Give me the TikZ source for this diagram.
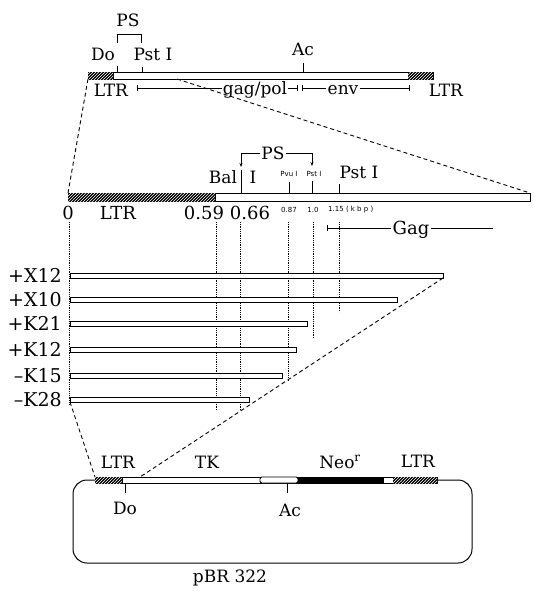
\documentclass[tikz,border=0pt]{standalone}
\usepackage{fontspec}
\setmainfont{DejaVu Serif}
\setsansfont{DejaVu Sans}
\usetikzlibrary{arrows.meta,positioning,calc,patterns}

\begin{document}
\begin{tikzpicture}[x=1pt, y=-1pt,
  lab/.style={font=\fontsize{17}{17}\selectfont, inner sep=1pt},
  num/.style={font=\fontsize{18}{18}\selectfont, inner sep=1pt},
  clab/.style={font=\fontsize{19}{19}\selectfont, inner sep=1pt},
  sml/.style={font=\sffamily\fontsize{7}{7}\selectfont, inner sep=1pt},
  bar/.style={draw, fill=white, line width=0.9pt, inner sep=0pt, outer sep=0pt, anchor=north west},
  hat/.style={bar, fill=black, postaction={pattern=north east lines, pattern color=white}},
  tk/.style={line width=0.8pt},
  zm/.style={line width=0.9pt, dash pattern=on 4pt off 3pt},
  dt/.style={line width=0.8pt, densely dotted},
  sp/.style={line width=0.7pt},
  dn/.style={-{Stealth[length=4pt,width=3pt]}, line width=0.7pt}
]
\useasboundingbox (0,0) rectangle (533,597);

% provirus
\node[bar, minimum width=345pt, minimum height=7pt] (gen) at (88,72) {};
\node[hat, minimum width=25pt, minimum height=7pt] (ltrA) at (88,72) {};
\node[hat, minimum width=25pt, minimum height=7pt] (ltrB) at (408,72) {};
\node[lab] (ps1) at (128,20) {PS};
\node[lab] (doA) at (103,54) {Do};
\node[lab] (pstA) at (153,54) {Pst I};
\node[lab] (acA) at (303,49) {Ac};
\draw[tk] (117,43) |- (141,34) -- (141,43);
\draw[tk] (117,72) -- ++(0,-6);
\draw[tk] (142,72) -- ++(0,-5);
\draw[tk] (303,72) -- ++(0,-9);
\node[lab] (ltr1) at (111,90) {LTR};
\node[lab] (gp) at (255,90) {gag/pol};
\node[lab] (env) at (343,90) {env};
\node[lab] (ltr2) at (446,90) {LTR};
\coordinate (gs) at (137,88);
\coordinate (ge) at (298,88);
\coordinate (es) at (302,88);
\coordinate (ee) at (410,88);
\draw[sp, {Bar[width=6pt]}-] (gs) -- (gs -| gp.west);
\draw[sp, -{Bar[width=6pt]}] (gp.east |- ge) -- (ge);
\draw[sp, {Bar[width=6pt]}-] (es) -- (es -| env.west);
\draw[sp, -{Bar[width=6pt]}] (env.east |- ee) -- (ee);

% enlarged 5' region
\node[bar, minimum width=462pt, minimum height=8pt] (mid) at (68,193) {};
\node[hat, minimum width=147pt, minimum height=8pt] (midltr) at (68,193) {};
\draw[zm] (gen.south west) -- (mid.north west);
\draw[zm] ($(gen.south west)+(89,0)$) -- (mid.north east);
\node[lab, fill=white] (ps2) at (273,153) {PS};
\draw[dn] (ps2.west) -| (241,167);
\draw[dn] (ps2.east) -| (312,166);
\node[lab] (bal) at (223,177) {Bal};
\node[lab] (balI) at (253,177) {I};
\node[sml] (pvu) at (289,174) {Pvu I};
\node[sml] (pst2) at (314,174) {Pst I};
\node[lab] (pst3) at (359,172) {Pst I};
\draw[tk] (241,170) -- (241,193);
\draw[tk] (289,182) -- (289,193);
\draw[tk] (312,181) -- (312,193);
\draw[tk] (339,184) -- (339,193);
\node[num] (s0) at (68,213) {0};
\node[num] (sltr) at (118,213) {LTR};
\node[num] (s59) at (204,213) {0.59};
\node[num] (s66) at (250,213) {0.66};
\node[sml] (s87) at (289,210) {0.87};
\node[sml] (s10) at (313,210) {1.0};
\node[sml, anchor=west] (s115) at (327,210) {1.15 ( k b p )};
\node[num] (gag) at (411,230) {Gag};
\coordinate (gg) at (327,228);
\coordinate (gz) at (493,228);
\draw[sp, {Bar[width=6pt]}-] (gg) -- (gg -| gag.west);
\draw[sp] (gag.east |- gz) -- (gz);
\foreach \x/\e in {216/410, 240/410, 288/381, 313/338, 339/312}
  \draw[dt] (\x,222) -- (\x,\e);
\draw[dt] (69,222) -- (69,404);

% deletion clones
\foreach \n/\y/\w/\t in {x12/273/373/{+X12}, x10/297/327/{+X10}, k21/321/237/{+K21},
    k12/347/226/{+K12}, k15/373/212/{\textendash K15}, k28/397/179/{\textendash K28}} {
  \node[bar, minimum width=\w pt, minimum height=5pt] (\n) at (70,\y) {};
  \node[clab, left=7pt of \n] (\n-t) {\t};
}

% vector
\draw[line width=1pt, rounded corners=14pt] (95,480) -| (73,563) -| (472,480) -- (437,480);
\node[bar, minimum width=342pt, minimum height=6pt] (vec) at (95,477) {};
\node[hat, minimum width=27pt, minimum height=6pt] (vltrA) at (95,477) {};
\node[bar, minimum width=38pt, minimum height=6pt, rounded corners=2pt] (acr) at (260,477) {};
\node[bar, fill=black, minimum width=85pt, minimum height=6pt] (neo) at (298,477) {};
\node[hat, minimum width=44pt, minimum height=6pt] (vltrB) at (393,477) {};
\draw[zm] (k28.south west) -- (vec.north west);
\draw[zm] (x12.south east) -- ($(vec.north west)+(45,0)$);
\node[lab] (vl1) at (118,462) {LTR};
\node[lab] (tkL) at (207,462) {TK};
\node[lab] (neoL) at (340,462) {Neo\textsuperscript{r}};
\node[lab] (vl2) at (418,461) {LTR};
\node[lab] (doB) at (125,508) {Do};
\node[lab] (acB) at (290,510) {Ac};
\draw[tk] (125,483) -- (125,493);
\draw[tk] (287,483) -- (287,493);
\node[lab] (pbr) at (230,578) {pBR 322};
\end{tikzpicture}
\end{document}
